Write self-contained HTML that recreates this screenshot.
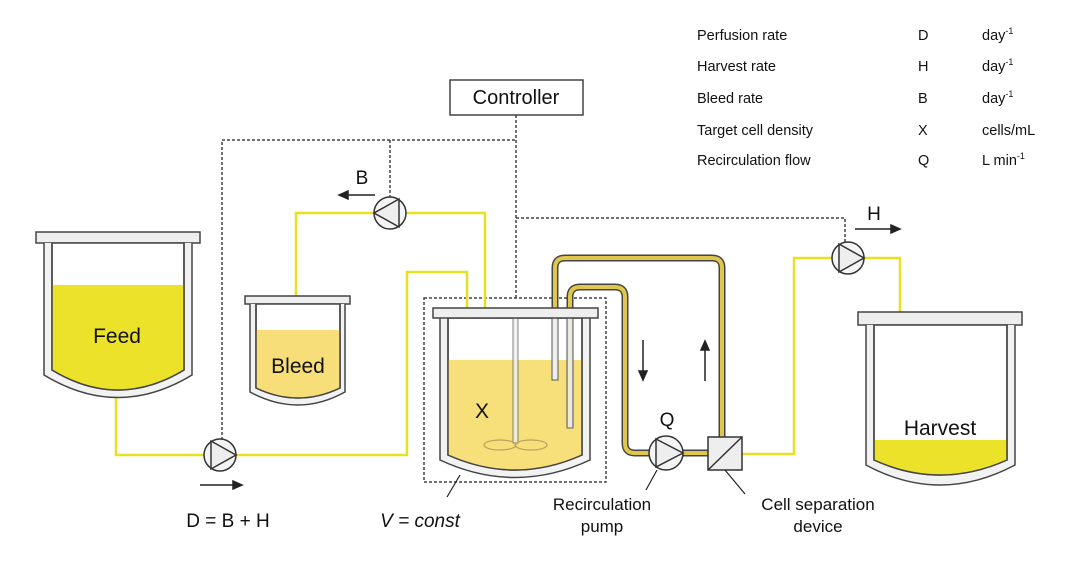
<!DOCTYPE html>
<html><head><meta charset="utf-8"><style>
body{margin:0;background:#fff}
svg{display:block;font-family:"Liberation Sans",Arial,sans-serif}
</style></head><body>
<svg width="1080" height="563" viewBox="0 0 1080 563" xmlns="http://www.w3.org/2000/svg">
<defs>
<clipPath id="cf"><path d="M52,243 V370 Q118,410 184,370 V243Z"/></clipPath>
<clipPath id="cb"><path d="M256,304 V388 Q298,408 340,388 V304Z"/></clipPath>
<clipPath id="cr"><path d="M448,318 V455 Q515,485 582,455 V318Z"/></clipPath>
<clipPath id="ch"><path d="M874,325 V460 Q940,490 1007,460 V325Z"/></clipPath>
</defs>
<!-- dashed control lines -->
<g stroke="#444" stroke-width="1.5" stroke-dasharray="3,2" fill="none">
<path d="M516,115 V298"/>
<path d="M222,440 V140 H516"/>
<path d="M390,140 V197"/>
<path d="M516,218 H845 V242"/>
<rect x="424" y="298" width="182" height="184"/>
</g>
<!-- yellow lines -->
<g stroke="#e8e020" stroke-width="2.5" fill="none">
<path d="M116,398 V455 H204"/>
<path d="M236,455 H407 V272 H467 V308"/>
<path d="M374,213 H296 V296"/>
<path d="M406,213 H485 V360"/>
<path d="M742,454 H794 V258 H832"/>
<path d="M864,258 H900 V312"/>
</g>
<!-- Feed tank -->
<rect x="36" y="232" width="164" height="11" fill="#eee" stroke="#444" stroke-width="1.5"/>
<path d="M44,243 V375 Q118,420 192,375 V243" fill="#f2f2f2" stroke="#444" stroke-width="1.5"/>
<path d="M52,243 V370 Q118,410 184,370 V243Z" fill="#fff" stroke="#444" stroke-width="1.5"/>
<rect x="40" y="285" width="160" height="130" fill="#ece22a" clip-path="url(#cf)"/>
<path d="M52,243 V370 Q118,410 184,370 V243" fill="none" stroke="#444" stroke-width="1.5"/>
<text x="117" y="343" font-size="21" text-anchor="middle" fill="#111">Feed</text>
<!-- Bleed tank -->
<rect x="245" y="296" width="105" height="8" fill="#eee" stroke="#444" stroke-width="1.5"/>
<path d="M250,304 V392 Q298,418 345,392 V304" fill="#f2f2f2" stroke="#444" stroke-width="1.5"/>
<path d="M256,304 V388 Q298,408 340,388 V304Z" fill="#fff" stroke="#444" stroke-width="1.5"/>
<rect x="250" y="330" width="100" height="80" fill="#f7de78" clip-path="url(#cb)"/>
<path d="M256,304 V388 Q298,408 340,388 V304" fill="none" stroke="#444" stroke-width="1.5"/>
<text x="298" y="373" font-size="21" text-anchor="middle" fill="#111">Bleed</text>
<!-- Reactor -->
<path d="M440,318 V460 Q515,495 590,460 V318" fill="#f2f2f2" stroke="#444" stroke-width="1.5"/>
<path d="M448,318 V455 Q515,485 582,455 V318Z" fill="#fff" stroke="#444" stroke-width="1.5"/>
<rect x="440" y="360" width="150" height="120" fill="#f7e07a" clip-path="url(#cr)"/>
<path d="M448,318 V455 Q515,485 582,455 V318" fill="none" stroke="#444" stroke-width="1.5"/>
<!-- impeller shaft -->
<rect x="513" y="318" width="5" height="125" fill="#eee" stroke="#666" stroke-width="1" opacity="0.8"/>
<ellipse cx="500" cy="445" rx="16" ry="5" fill="none" stroke="#bba060" stroke-width="1.2"/>
<ellipse cx="531" cy="445" rx="16" ry="5" fill="none" stroke="#bba060" stroke-width="1.2"/>
<text x="482" y="418" font-size="21" text-anchor="middle" fill="#111">X</text>
<!-- recirc tubes -->
<g fill="none" stroke-linejoin="round">
<path d="M555,380 V268 Q555,258 565,258 H712 Q722,258 722,268 V437" stroke="#444" stroke-width="7"/>
<path d="M555,380 V268 Q555,258 565,258 H712 Q722,258 722,268 V437" stroke="#e0c64a" stroke-width="4"/>
<path d="M570,427 V297 Q570,287 580,287 H615 Q625,287 625,297 V443 Q625,453 635,453 H650" stroke="#444" stroke-width="7"/>
<path d="M570,427 V297 Q570,287 580,287 H615 Q625,287 625,297 V443 Q625,453 635,453 H650" stroke="#e0c64a" stroke-width="4"/>
<path d="M683,453 H708" stroke="#444" stroke-width="7"/>
<path d="M683,453 H708" stroke="#e0c64a" stroke-width="4"/>
</g>
<!-- tubes inside reactor (pale) -->
<rect x="552" y="318" width="6" height="62" fill="#eee" stroke="#555" stroke-width="1"/>
<rect x="567" y="318" width="6" height="110" fill="#eee" stroke="#555" stroke-width="1" opacity="0.9"/>
<rect x="433" y="308" width="165" height="10" fill="#eee" stroke="#444" stroke-width="1.5"/>
<!-- Harvest tank -->
<rect x="858" y="312" width="164" height="13" fill="#eee" stroke="#444" stroke-width="1.5"/>
<path d="M866,325 V465 Q940,505 1015,465 V325" fill="#f2f2f2" stroke="#444" stroke-width="1.5"/>
<path d="M874,325 V460 Q940,490 1007,460 V325Z" fill="#fff" stroke="#444" stroke-width="1.5"/>
<rect x="866" y="440" width="150" height="50" fill="#ece22a" clip-path="url(#ch)"/>
<path d="M874,325 V460 Q940,490 1007,460 V325" fill="none" stroke="#444" stroke-width="1.5"/>
<text x="940" y="435" font-size="21" text-anchor="middle" fill="#111">Harvest</text>
<!-- pumps -->
<g stroke="#333" stroke-width="1.5" fill="#f4f4f4">
<circle cx="220" cy="455" r="16"/><path d="M211,441 L236,455 L211,469Z" fill="#eee"/>
<circle cx="390" cy="213" r="16"/><path d="M399,199 L374,213 L399,227Z" fill="#eee"/>
<circle cx="848" cy="258" r="16"/><path d="M839,244 L864,258 L839,272Z" fill="#eee"/>
<circle cx="666" cy="453" r="17"/><path d="M656,439 L683,453 L656,467Z" fill="#eee"/>
<rect x="708" y="437" width="34" height="33" fill="#eee"/>
<path d="M708,470 L742,437" fill="none"/>
</g>
<!-- controller -->
<rect x="450" y="80" width="133" height="35" fill="#fff" stroke="#444" stroke-width="1.5"/>
<text x="516" y="104" font-size="20" text-anchor="middle" fill="#111">Controller</text>
<!-- arrows -->
<g stroke="#222" stroke-width="1.5" fill="#222">
<path d="M200,485 H236" fill="none"/><path d="M242,485 L233,481 L233,489Z"/>
<path d="M375,195 H346" fill="none"/><path d="M339,195 L348,191 L348,199Z"/>
<path d="M855,229 H893" fill="none"/><path d="M900,229 L891,225 L891,233Z"/>
<path d="M643,340 V372" fill="none"/><path d="M643,380 L639,371 L647,371Z"/>
<path d="M705,381 V349" fill="none"/><path d="M705,341 L701,350 L709,350Z"/>
<path d="M460,475 L447,497 M657,470 L646,490 M725,470 L745,494" fill="none" stroke-width="1.2"/>
</g>
<g font-size="19" fill="#111">
<text x="362" y="184" text-anchor="middle">B</text>
<text x="874" y="220" text-anchor="middle">H</text>
<text x="667" y="426" text-anchor="middle">Q</text>
<text x="228" y="527" text-anchor="middle">D = B + H</text>
<text x="420" y="527" text-anchor="middle" font-style="italic">V = const</text>
</g>
<g font-size="17" fill="#111" text-anchor="middle">
<text x="602" y="510">Recirculation</text><text x="602" y="532">pump</text>
<text x="818" y="510">Cell separation</text><text x="818" y="532">device</text>
</g>
<g font-size="14.5" fill="#111">
<text x="697" y="40">Perfusion rate</text><text x="918" y="40">D</text><text x="982" y="40">day<tspan font-size="9" dy="-6">-1</tspan></text>
<text x="697" y="71">Harvest rate</text><text x="918" y="71">H</text><text x="982" y="71">day<tspan font-size="9" dy="-6">-1</tspan></text>
<text x="697" y="103">Bleed rate</text><text x="918" y="103">B</text><text x="982" y="103">day<tspan font-size="9" dy="-6">-1</tspan></text>
<text x="697" y="135">Target cell density</text><text x="918" y="135">X</text><text x="982" y="135">cells/mL</text>
<text x="697" y="165">Recirculation flow</text><text x="918" y="165">Q</text><text x="982" y="165">L min<tspan font-size="9" dy="-6">-1</tspan></text>
</g>
</svg>
</body></html>
